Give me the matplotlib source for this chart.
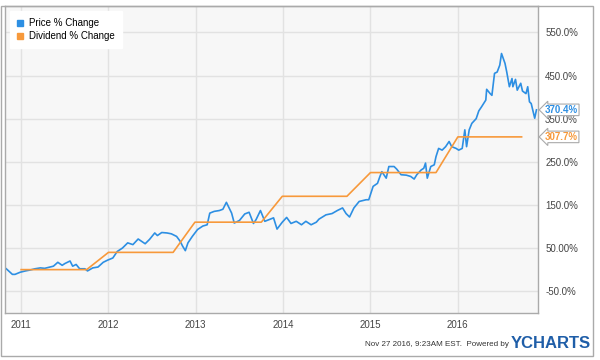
import matplotlib
matplotlib.use("Agg")
import matplotlib.pyplot as plt
from matplotlib.patches import Rectangle
from matplotlib.lines import Line2D

plt.rcParams['font.family'] = ['Liberation Sans', 'DejaVu Sans']

# ========== 数据 ==========
# 价格涨幅（%），横轴为十进制年份
price_x = [2010.83, 2010.90, 2010.93, 2010.99, 2011.05, 2011.10, 2011.16, 2011.22, 2011.27, 2011.33,
           2011.37, 2011.42, 2011.47, 2011.50, 2011.56, 2011.59, 2011.63, 2011.67, 2011.73, 2011.76,
           2011.82, 2011.88, 2011.94, 2011.99, 2012.05, 2012.10, 2012.16, 2012.22, 2012.28, 2012.34,
           2012.42, 2012.47, 2012.53, 2012.56, 2012.61, 2012.67, 2012.72, 2012.78, 2012.82, 2012.85,
           2012.88, 2012.91, 2012.96, 2013.02, 2013.08, 2013.13, 2013.16, 2013.21, 2013.27, 2013.31,
           2013.35, 2013.41, 2013.44, 2013.50, 2013.56, 2013.61, 2013.66, 2013.69, 2013.74, 2013.79,
           2013.84, 2013.89, 2013.93, 2013.99, 2014.04, 2014.09, 2014.15, 2014.21, 2014.26, 2014.32,
           2014.38, 2014.41, 2014.49, 2014.56, 2014.62, 2014.68, 2014.72, 2014.76, 2014.81, 2014.87,
           2014.95, 2014.98, 2015.03, 2015.08, 2015.11, 2015.13, 2015.18, 2015.21, 2015.27, 2015.30,
           2015.35, 2015.41, 2015.46, 2015.50, 2015.53, 2015.58, 2015.61, 2015.63, 2015.65, 2015.69,
           2015.73, 2015.75, 2015.78, 2015.82, 2015.86, 2015.90, 2015.93, 2015.98, 2016.01, 2016.05,
           2016.08, 2016.10, 2016.13, 2016.16, 2016.21, 2016.24, 2016.27, 2016.32, 2016.33, 2016.37,
           2016.39, 2016.42, 2016.45, 2016.48, 2016.50, 2016.54, 2016.56, 2016.59, 2016.62, 2016.63,
           2016.66, 2016.68, 2016.72, 2016.74, 2016.78, 2016.80, 2016.82, 2016.84, 2016.88, 2016.90]
price_y = [2, -11, -11, -6, -3, -1, 2, 4, 3, 6,
           8, 17, 10, 14, 20, 8, 12, 2, 2, -3,
           4, 6, 17, 22, 27, 42, 50, 62, 58, 71,
           60, 70, 85, 79, 86, 85, 83, 77, 66, 54,
           44, 62, 77, 93, 101, 104, 131, 135, 137, 140,
           156, 131, 108, 114, 129, 133, 107, 116, 137, 112,
           116, 120, 94, 110, 121, 107, 112, 104, 112, 104,
           110, 117, 127, 130, 137, 143, 130, 122, 143, 158,
           162, 162, 193, 200, 217, 227, 212, 239, 239, 233,
           220, 219, 216, 210, 220, 231, 235, 247, 212, 239,
           243, 262, 281, 277, 285, 297, 285, 281, 277, 281,
           324, 285, 324, 339, 350, 368, 377, 393, 418, 408,
           404, 455, 458, 474, 501, 478, 458, 424, 443, 424,
           441, 416, 432, 414, 408, 424, 389, 385, 351, 370.4]

# 股息涨幅（%）
div_x = [2011.00, 2011.75, 2012.00, 2012.74, 2012.99, 2013.75, 2013.99, 2014.73,
         2015.00, 2015.75, 2016.00, 2016.73]
div_y = [0, 0, 40, 40, 110, 110, 170, 170, 225, 225, 307.7, 307.7]

years = [2011, 2012, 2013, 2014, 2015, 2016]
y_ticks = [550, 450, 350, 250, 150, 50, -50]
y_labels = ["550.0%", "450.0%", "350.0%", "250.0%", "150.0%", "50.00%", "-50.0%"]

blue = '#2d8fe3'
orange = '#f7993b'

# ========== 画图 ==========
fig = plt.figure(figsize=(6, 3.6), dpi=100)
ax = fig.add_axes([0.009, 0.13, 0.888, 0.852])
ax.set_facecolor('#f7f7f7')

ax.plot(price_x, price_y, color=blue, lw=1.2)
ax.plot(div_x, div_y, color=orange, lw=1.2)

ax.set_xlim(2010.82, 2016.92)
ax.set_ylim(-101, 610)

ax.set_xticks(years)
ax.set_xticklabels([str(y) for y in years], fontsize=7, color='#444444')
ax.set_yticks(y_ticks)
ax.set_yticklabels(y_labels, fontsize=7, color='#444444')
ax.yaxis.tick_right()
ax.tick_params(length=0, axis='y', pad=5)
ax.tick_params(length=0, axis='x', pad=5)
ax.grid(True, color='#e2e2e2', lw=1)
ax.set_axisbelow(True)
for side in ['left', 'right', 'bottom', 'top']:
    ax.spines[side].set_color('#aaaaaa')
    ax.spines[side].set_linewidth(1)

# 图例（小方块）
handles = [Line2D([], [], ls='', marker='s', markersize=5, color=blue),
           Line2D([], [], ls='', marker='s', markersize=5, color=orange)]
leg = ax.legend(handles, ["Price % Change", "Dividend % Change"], loc='upper left', fontsize=7,
                frameon=True, handlelength=0.6, handletextpad=0.7, borderpad=0.4,
                labelspacing=0.3, bbox_to_anchor=(0.005, 0.99))
leg.get_frame().set_facecolor('white')
leg.get_frame().set_edgecolor('white')
leg.get_frame().set_alpha(1)
leg.get_frame().set_boxstyle('square')

# 右侧最新值标签
for val, col in [(price_y[-1], blue), (div_y[-1], orange)]:
    ax.annotate(f"{val:.1f}%", xy=(1.0, val), xycoords=('axes fraction', 'data'),
                xytext=(5, 0), textcoords='offset points', va='center', ha='left',
                fontsize=7, fontweight='bold', color=col,
                bbox=dict(boxstyle='larrow,pad=0.08', fc='white', ec='#aaaaaa', lw=0.8))

# 页脚
fig.text(0.848, 0.043, "Nov 27 2016, 9:23AM EST.  Powered by", ha='right', va='center',
         fontsize=5.8, color='#333333')
fig.text(0.851, 0.045, "YCHARTS", ha='left', va='center', fontsize=12, fontweight='bold',
         color='#1f5ea8')

# 外框
fig.patches.append(Rectangle((0.002, 0.01), 0.986, 0.972, transform=fig.transFigure,
                             fill=False, ec='#aaaaaa', lw=1))

fig.savefig("out.png", dpi=100)
